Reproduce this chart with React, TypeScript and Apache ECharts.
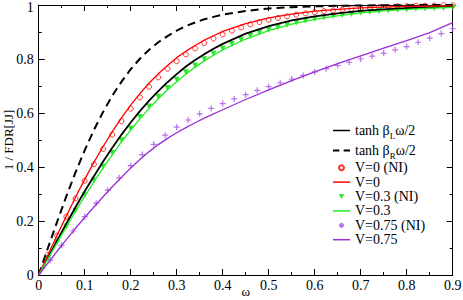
import React, { useEffect, useRef } from 'react';
import * as echarts from 'echarts';

// ω sample points for the continuous curves
const lineX = [0, 0.02, 0.04, 0.06, 0.08, 0.1, 0.12, 0.14, 0.16, 0.18, 0.2, 0.22, 0.24, 0.26, 0.28, 0.3, 0.32, 0.34, 0.36, 0.38, 0.4, 0.45, 0.5, 0.55, 0.6, 0.65, 0.7, 0.75, 0.8, 0.85, 0.9];
const tanhL = [0, 0.064, 0.127, 0.19, 0.251, 0.31, 0.366, 0.42, 0.471, 0.52, 0.565, 0.607, 0.646, 0.681, 0.714, 0.744, 0.772, 0.796, 0.818, 0.838, 0.856, 0.894, 0.922, 0.943, 0.958, 0.969, 0.978, 0.984, 0.988, 0.991, 0.994];
const tanhR = [0, 0.1, 0.197, 0.291, 0.38, 0.462, 0.537, 0.604, 0.664, 0.716, 0.762, 0.801, 0.834, 0.862, 0.885, 0.905, 0.922, 0.935, 0.947, 0.956, 0.964, 0.978, 0.987, 0.992, 0.995, 0.997, 0.998, 0.999, 0.999, 1.0, 1.0];
const v0Line = [0, 0.074, 0.147, 0.218, 0.288, 0.354, 0.417, 0.476, 0.531, 0.582, 0.629, 0.672, 0.711, 0.745, 0.776, 0.805, 0.829, 0.85, 0.87, 0.886, 0.902, 0.931, 0.952, 0.966, 0.977, 0.984, 0.989, 0.992, 0.995, 0.996, 0.997];
const v03Line = [0, 0.06, 0.119, 0.178, 0.236, 0.291, 0.345, 0.397, 0.446, 0.493, 0.537, 0.578, 0.617, 0.653, 0.686, 0.716, 0.744, 0.77, 0.793, 0.814, 0.834, 0.874, 0.905, 0.929, 0.947, 0.96, 0.971, 0.978, 0.984, 0.988, 0.991];
const v075Line = [0, 0.044, 0.088, 0.131, 0.173, 0.213, 0.252, 0.29, 0.327, 0.362, 0.396, 0.428, 0.457, 0.483, 0.506, 0.527, 0.546, 0.564, 0.581, 0.597, 0.612, 0.65, 0.686, 0.72, 0.752, 0.783, 0.812, 0.84, 0.868, 0.898, 0.935];

// ω sample points of the NI (symbol) data
const markX = [0.02, 0.04, 0.06, 0.08, 0.1, 0.12, 0.14, 0.16, 0.18, 0.2, 0.22, 0.24, 0.26, 0.28, 0.3, 0.32, 0.34, 0.36, 0.38, 0.4, 0.42, 0.44, 0.46, 0.48, 0.5, 0.52, 0.54, 0.56, 0.58, 0.6, 0.62, 0.64, 0.66, 0.68, 0.7, 0.72, 0.74, 0.76, 0.78, 0.8, 0.82, 0.84, 0.86, 0.88, 0.9];
const v0NI = [0.074, 0.146, 0.216, 0.284, 0.349, 0.41, 0.467, 0.52, 0.57, 0.616, 0.658, 0.697, 0.732, 0.764, 0.792, 0.817, 0.839, 0.859, 0.876, 0.891, 0.905, 0.917, 0.928, 0.937, 0.945, 0.952, 0.958, 0.964, 0.969, 0.973, 0.977, 0.98, 0.983, 0.986, 0.988, 0.99, 0.992, 0.993, 0.995, 0.996, 0.997, 0.998, 0.998, 0.999, 0.999];
const v03NI = [0.061, 0.121, 0.18, 0.238, 0.295, 0.35, 0.402, 0.452, 0.499, 0.543, 0.585, 0.624, 0.66, 0.693, 0.723, 0.751, 0.776, 0.799, 0.82, 0.839, 0.856, 0.871, 0.885, 0.897, 0.908, 0.918, 0.927, 0.935, 0.942, 0.948, 0.954, 0.959, 0.963, 0.967, 0.971, 0.974, 0.977, 0.98, 0.982, 0.984, 0.986, 0.987, 0.988, 0.989, 0.991];
const crossX = [0.025, 0.05, 0.075, 0.1, 0.125, 0.15, 0.175, 0.2, 0.225, 0.25, 0.275, 0.3, 0.325, 0.35, 0.375, 0.4, 0.425, 0.45, 0.475, 0.5, 0.525, 0.55, 0.575, 0.6, 0.625, 0.65, 0.675, 0.7, 0.725, 0.75, 0.775, 0.8, 0.825, 0.85, 0.875, 0.9];
const v075NI = [0.055, 0.11, 0.163, 0.216, 0.266, 0.314, 0.36, 0.405, 0.446, 0.484, 0.518, 0.548, 0.574, 0.597, 0.617, 0.635, 0.652, 0.668, 0.684, 0.698, 0.712, 0.726, 0.739, 0.752, 0.764, 0.776, 0.788, 0.8, 0.811, 0.822, 0.834, 0.846, 0.862, 0.877, 0.894, 0.912];

const SERIF = "'Liberation Serif', 'Times New Roman', serif";
const NAME_L = 'tanh βLω/2';
const NAME_R = 'tanh βRω/2';

const pairs = (xs: number[], ys: number[]) => xs.map((x, i) => [x, ys[i]]);

const tri = 'path://M0,0L10,0L5,9Z';
const plus = 'path://M4,0H6V4H10V6H6V10H4V6H0V4H4Z';
const solidIcon = 'path://M0,0H34V3H0Z';
const dashIcon = 'path://M0,0H12V4H0ZM20,0H32V4H20Z';

function axisCommon(show: boolean) {
  return {
    axisLine: { show: true, onZero: false, lineStyle: { color: '#000', width: 1 } },
    axisTick: { show: true, inside: true, length: 6, lineStyle: { color: '#000', width: 1 } },
    minorTick: { show: true, splitNumber: 2, length: 3, lineStyle: { color: '#000', width: 1 } },
    splitLine: { show: false },
    minorSplitLine: { show: false },
    axisLabel: { show, fontFamily: SERIF, fontSize: 14, color: '#000' },
  };
}

export default function App() {
  const ref = useRef<HTMLDivElement>(null);
  useEffect(() => {
    const chart = echarts.init(ref.current!, null, { renderer: 'svg' });
    const line = (name: string, ys: number[], color: string, width: number, type: any = 'solid') => ({
      type: 'line', name, data: pairs(lineX, ys), symbol: 'none', smooth: false,
      lineStyle: { color, width, type }, itemStyle: { color }, z: 3,
    });
    chart.setOption({
      animation: false,
      grid: { left: 38.7, right: 10.3, top: 5, bottom: 25, outerBoundsMode: 'none', containLabel: false },
      xAxis: [
        {
          type: 'value', min: 0, max: 0.9, interval: 0.1, position: 'bottom',
          name: 'ω', nameLocation: 'middle', nameGap: 10, nameMoveOverlap: false,
          nameTextStyle: { fontFamily: SERIF, fontSize: 13, color: '#000', lineHeight: 13 },
          ...axisCommon(true),
          axisLabel: { show: true, fontFamily: SERIF, fontSize: 14, color: '#000', margin: 3 },
        },
        { type: 'value', min: 0, max: 0.9, interval: 0.1, position: 'top', ...axisCommon(false) },
      ],
      yAxis: [
        {
          type: 'value', min: 0, max: 1, interval: 0.2, position: 'left',
          name: '1 / FDR[JJ]', nameLocation: 'middle', nameGap: 24, nameMoveOverlap: false,
          nameTextStyle: { fontFamily: SERIF, fontSize: 13, color: '#000', lineHeight: 13 },
          ...axisCommon(true),
          axisLabel: {
            show: true, fontFamily: SERIF, fontSize: 14, color: '#000', margin: 5,
            formatter: (v: number) => (v === 1 ? '{t|1}' : String(Math.round(v * 10) / 10)),
            rich: { t: { fontFamily: SERIF, fontSize: 14, color: '#000', lineHeight: 14, padding: [5, 0, 0, 0] } },
          },
        },
        { type: 'value', min: 0, max: 1, interval: 0.2, position: 'right', ...axisCommon(false) },
      ],
      legend: {
        orient: 'vertical', left: 333, top: 120.5, itemWidth: 17, itemHeight: 5, itemGap: 0,
        padding: 0,
        data: [
          { name: NAME_L, icon: solidIcon },
          { name: NAME_R, icon: dashIcon },
          { name: 'V=0 (NI)' },
          { name: 'V=0', icon: solidIcon },
          { name: 'V=0.3 (NI)', icon: tri },
          { name: 'V=0.3', icon: solidIcon },
          { name: 'V=0.75 (NI)', icon: 'circle' },
          { name: 'V=0.75', icon: solidIcon },
        ],
        formatter: (n: string) => {
          if (n === NAME_L) return 'tanh β{sub|L}ω/2';
          if (n === NAME_R) return 'tanh β{sub|R}ω/2';
          return n;
        },
        textStyle: {
          fontFamily: SERIF, fontSize: 14, color: '#000', lineHeight: 14.4,
          rich: { sub: { fontFamily: SERIF, fontSize: 9, color: '#000', lineHeight: 10, padding: [11, 0, 0, 0] } },
        },
      },
      series: [
        line(NAME_L, tanhL, '#000', 1.8),
        line(NAME_R, tanhR, '#000', 2, [8, 5]),
        {
          type: 'scatter', name: 'V=0 (NI)', data: pairs(markX, v0NI), symbol: 'circle', symbolSize: 5,
          itemStyle: { color: 'rgba(255,255,255,0)', borderColor: '#ff0000', borderWidth: 1 }, z: 2,
        },
        line('V=0', v0Line, '#ff0000', 1.3),
        {
          type: 'scatter', name: 'V=0.3 (NI)', data: pairs(markX, v03NI), symbol: tri, symbolSize: 6,
          itemStyle: { color: '#00dd00' }, z: 2,
        },
        line('V=0.3', v03Line, '#22ee22', 1.3),
        {
          type: 'scatter', name: 'V=0.75 (NI)', data: pairs(crossX, v075NI), symbol: plus, symbolSize: 6,
          itemStyle: { color: '#a64ee6' }, z: 2,
        },
        line('V=0.75', v075Line, '#9a2fd6', 1.3),
      ],
    });
    return () => chart.dispose();
  }, []);
  return <div ref={ref} style={{ position: 'absolute', left: 0, top: 0, width: 463, height: 300 }} />;
}
